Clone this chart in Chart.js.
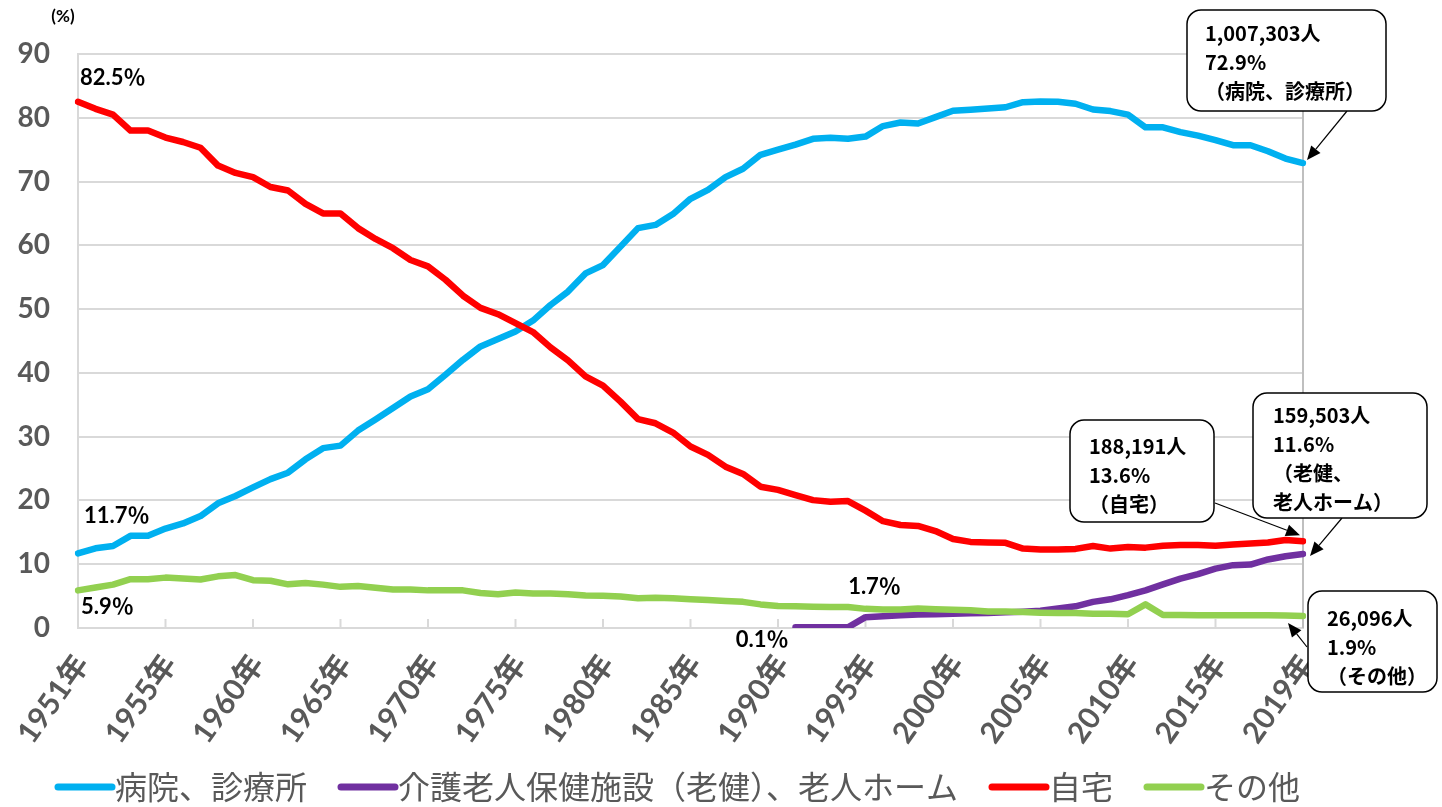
<!DOCTYPE html>
<html lang="ja">
<head>
<meta charset="utf-8">
<title>死亡の場所別にみた死亡数の構成割合</title>
<script src="https://cdn.jsdelivr.net/npm/chart.js@4.4.1/dist/chart.umd.min.js"></script>
<style>
	html, body { margin: 0; padding: 0; background: #ffffff; }
	canvas { display: block; }
</style>
</head>
<body>
<canvas id="myChart" width="1442" height="807"></canvas>
<script>
//global variables
var tickLabels = ["1951年", "1955年", "1960年", "1965年", "1970年",
                  "1975年", "1980年", "1985年", "1990年", "1995年",
                  "2000年", "2005年", "2010年", "2015年", "2019年"];
var pointCount = 71;
var tickEvery = 5;

var seriesNames = ["病院、診療所", "介護老人保健施設（老健）、老人ホーム", "自宅", "その他"];
var seriesColors = ["#00B0F0", "#7030A0", "#FF0000", "#92D050"];

//病院、診療所 (%)
var hospital = [11.7, 12.5, 12.85, 14.45, 14.45, 15.6, 16.4, 17.55, 19.55, 20.7,
                22.05, 23.35, 24.35, 26.45, 28.2, 28.6, 30.95, 32.7, 34.5, 36.3,
                37.45, 39.7, 42.05, 44.15, 45.3, 46.5, 48.2, 50.65, 52.75, 55.6,
                56.9, 59.8, 62.7, 63.2, 64.9, 67.3, 68.7, 70.7, 72.0, 74.2,
                75.0, 75.8, 76.7, 76.85, 76.7, 77.05, 78.7, 79.25, 79.1, 80.1,
                81.1, 81.25, 81.45, 81.65, 82.45, 82.55, 82.5, 82.2, 81.3, 81.05,
                80.5, 78.5, 78.5, 77.75, 77.2, 76.5, 75.7, 75.7, 74.75, 73.6,
                72.9];

//介護老人保健施設（老健）、老人ホーム (%)
var nursing = [null, null, null, null, null, null, null, null, null, null,
               null, null, null, null, null, null, null, null, null, null,
               null, null, null, null, null, null, null, null, null, null,
               null, null, null, null, null, null, null, null, null, null,
               null, 0.1, 0.1, 0.1, 0.1, 1.7, 1.85, 2.0, 2.1, 2.15,
               2.25, 2.3, 2.35, 2.45, 2.55, 2.7, 3.05, 3.4, 4.1, 4.5,
               5.15, 5.9, 6.85, 7.75, 8.45, 9.3, 9.85, 9.95, 10.75, 11.25,
               11.6];

//自宅 (%)
var home = [82.5, 81.4, 80.5, 78.0, 78.0, 76.9, 76.2, 75.3, 72.5, 71.35,
            70.7, 69.15, 68.6, 66.5, 65.0, 65.0, 62.7, 61.0, 59.55, 57.7,
            56.7, 54.6, 52.1, 50.2, 49.2, 47.8, 46.4, 44.0, 41.95, 39.45,
            38.0, 35.5, 32.75, 32.1, 30.65, 28.45, 27.15, 25.3, 24.15, 22.15,
            21.65, 20.85, 20.05, 19.8, 19.9, 18.4, 16.75, 16.15, 16.0, 15.2,
            13.95, 13.5, 13.4, 13.35, 12.45, 12.3, 12.3, 12.4, 12.85, 12.45,
            12.7, 12.6, 12.9, 13.0, 13.0, 12.9, 13.1, 13.25, 13.4, 13.8,
            13.6];

//その他 (%)
var other = [5.9, 6.35, 6.8, 7.65, 7.65, 7.9, 7.75, 7.6, 8.1, 8.3,
             7.5, 7.4, 6.85, 7.05, 6.8, 6.45, 6.6, 6.3, 6.05, 6.05,
             5.9, 5.9, 5.9, 5.5, 5.3, 5.55, 5.4, 5.4, 5.3, 5.1,
             5.05, 4.95, 4.65, 4.75, 4.65, 4.5, 4.4, 4.25, 4.1, 3.7,
             3.45, 3.4, 3.35, 3.3, 3.3, 3.0, 2.9, 2.9, 3.05, 2.95,
             2.85, 2.8, 2.6, 2.6, 2.5, 2.4, 2.35, 2.35, 2.25, 2.25,
             2.15, 3.7, 2.05, 2.05, 2.0, 2.0, 2.0, 2.0, 2.0, 1.95,
             1.9];

//small labels next to the lines: text, dataset, point
var pointLabelTexts = ["82.5％", "11.7％", "5.9％", "1.7％", "0.1％"];
var pointLabelSeries = [2, 0, 3, 1, 1];
var pointLabelIndex = [0, 0, 0, 45, 41];

//callouts at the end of each line
var calloutTexts = [
	["1,007,303人", "72.9%", "（病院、診療所）"],
	["188,191人", "13.6%", "（自宅）"],
	["159,503人", "11.6%", "（老健、", "老人ホーム）"],
	["26,096人", "1.9%", "（その他）"]
];
var calloutSeries = [0, 2, 1, 3];

var plotBottom = 628;
var myChart;

/**
	builds the category list, only every 5th point gets a label
*/
function buildCategories(){
	var cats = [];
	for(var i = 0; i < pointCount; i++)
	{
		if(i % tickEvery == 0){
			cats.push(tickLabels[i / tickEvery]);
		} else {
			cats.push("");
		}
	}
	return cats;
}

//layout of the label boxes (pixels) and offsets of the arrow tip from the point
var calloutLayout = [
	{x: 1187, y: 10, w: 199, h: 101, tx: 1205, ty: 33, fx: 1347, fy: 111, dx: 4, dy: -3},
	{x: 1070, y: 420, w: 144, h: 102, tx: 1089, ty: 446, fx: 1215, fy: 503, dx: -3, dy: -6},
	{x: 1253, y: 393, w: 174, h: 125, tx: 1273, ty: 415, fx: 1342, fy: 518, dx: 7, dy: 2},
	{x: 1308, y: 591, w: 129, h: 101, tx: 1327, ty: 618, fx: 1307, fy: 647, dx: -15, dy: 7}
];
var pointLabelLayout = [
	{dx: 2, dy: -24, align: "left"},
	{dx: 6, dy: -37, align: "left"},
	{dx: 3, dy: 17, align: "left"},
	{dx: 9, dy: -30, align: "center"},
	{dx: -7, dy: 13, align: "right"}
];
var legendLayout = {x: 58, y: 787, line: 54, gap: 3, space: 34};

function roundRect(ctx, x, y, w, h, r){
	ctx.beginPath();
	ctx.moveTo(x + r, y);
	ctx.arcTo(x + w, y, x + w, y + h, r);
	ctx.arcTo(x + w, y + h, x, y + h, r);
	ctx.arcTo(x, y + h, x, y, r);
	ctx.arcTo(x, y, x + w, y, r);
	ctx.closePath();
}

function drawArrow(ctx, x1, y1, x2, y2){
	var ang = Math.atan2(y2 - y1, x2 - x1);
	var len = 14, half = 6;
	ctx.beginPath();
	ctx.moveTo(x1, y1);
	ctx.lineTo(x2 - Math.cos(ang) * len, y2 - Math.sin(ang) * len);
	ctx.stroke();
	ctx.beginPath();
	ctx.moveTo(x2, y2);
	ctx.lineTo(x2 - Math.cos(ang) * len - Math.sin(ang) * half, y2 - Math.sin(ang) * len + Math.cos(ang) * half);
	ctx.lineTo(x2 - Math.cos(ang) * len + Math.sin(ang) * half, y2 - Math.sin(ang) * len - Math.cos(ang) * half);
	ctx.closePath();
	ctx.fill();
}

//legend under the chart, one row, from the datasets
function drawLegend(chart){
	var ctx = chart.ctx;
	var x = legendLayout.x;
	var y = legendLayout.y;
	ctx.save();
	ctx.font = '32px "Noto Sans CJK JP", sans-serif';
	ctx.textBaseline = 'middle';
	ctx.textAlign = 'left';
	chart.data.datasets.forEach(function(ds){
		ctx.strokeStyle = ds.borderColor;
		ctx.lineWidth = 7;
		ctx.lineCap = 'round';
		ctx.beginPath();
		ctx.moveTo(x, y);
		ctx.lineTo(x + legendLayout.line, y);
		ctx.stroke();
		x += legendLayout.line + legendLayout.gap;
		ctx.fillStyle = '#595959';
		ctx.fillText(ds.label, x, y);
		x += ctx.measureText(ds.label).width + legendLayout.space;
	});
	ctx.restore();
}

var overlayPlugin = {
	id: 'overlay',
	beforeDatasetsDraw: function(chart){
		var ctx = chart.ctx;
		var xs = chart.scales.x;
		var area = chart.chartArea;
		ctx.save();
		//right border line at the last year
		ctx.strokeStyle = '#BFBFBF';
		ctx.lineWidth = 2;
		var xr = xs.getPixelForValue(pointCount - 1);
		ctx.beginPath();
		ctx.moveTo(xr, area.top);
		ctx.lineTo(xr, area.bottom);
		ctx.stroke();
		//short tick marks inside the plot
		ctx.strokeStyle = '#D9D9D9';
		for(var i = tickEvery; i < pointCount - 1; i += tickEvery)
		{
			var xt = xs.getPixelForValue(i);
			ctx.beginPath();
			ctx.moveTo(xt, area.bottom);
			ctx.lineTo(xt, area.bottom - 9);
			ctx.stroke();
		}
		ctx.restore();
	},
	afterDraw: function(chart){
		var ctx = chart.ctx;
		ctx.save();
		//unit
		ctx.fillStyle = '#000000';
		ctx.font = 'bold 17px Lato, "Noto Sans CJK JP", sans-serif';
		ctx.textAlign = 'center';
		ctx.textBaseline = 'middle';
		ctx.fillText('(%)', 63, 17);

		//labels at the start of the lines
		ctx.font = 'bold 22px Lato, "Noto Sans CJK JP", sans-serif';
		for(var i = 0; i < pointLabelTexts.length; i++)
		{
			var pt = chart.getDatasetMeta(pointLabelSeries[i]).data[pointLabelIndex[i]];
			var lay = pointLabelLayout[i];
			ctx.textAlign = lay.align;
			ctx.fillText(pointLabelTexts[i], pt.x + lay.dx, pt.y + lay.dy);
		}

		//callouts
		for(var c = 0; c < calloutTexts.length; c++)
		{
			var box = calloutLayout[c];
			var last = chart.getDatasetMeta(calloutSeries[c]).data[pointCount - 1];
			ctx.strokeStyle = '#000000';
			ctx.fillStyle = '#000000';
			ctx.lineWidth = 1.2;
			drawArrow(ctx, box.fx, box.fy, last.x + box.dx, last.y + box.dy);

			roundRect(ctx, box.x, box.y, box.w, box.h, 14);
			ctx.fillStyle = '#ffffff';
			ctx.fill();
			ctx.lineWidth = 1.5;
			ctx.stroke();

			ctx.fillStyle = '#000000';
			ctx.font = 'bold 20px "Noto Sans CJK JP", sans-serif';
			ctx.textAlign = 'left';
			for(var k = 0; k < calloutTexts[c].length; k++)
			{
				ctx.fillText(calloutTexts[c][k], box.tx, box.ty + k * 29);
			}
		}
		ctx.restore();

		drawLegend(chart);
	}
};

function makeDataset(idx, values, order){
	return {
		label: seriesNames[idx],
		data: values,
		borderColor: seriesColors[idx],
		backgroundColor: seriesColors[idx],
		borderWidth: 6.5,
		borderCapStyle: 'round',
		borderJoinStyle: 'round',
		pointRadius: 0,
		tension: 0,
		fill: false,
		order: order
	};
}

function showChart(){
	Chart.defaults.font.family = 'Lato, "Noto Sans CJK JP", sans-serif';
	var ctx = document.getElementById('myChart');

	myChart = new Chart(ctx, {
		type: 'line',
		data: {
			labels: buildCategories(),
			datasets: [
				makeDataset(0, hospital, 4),
				makeDataset(1, nursing, 3),
				makeDataset(2, home, 2),
				makeDataset(3, other, 1)
			]
		},
		options: {
			responsive: false,
			animation: false,
			layout: {
				padding: { top: 54, right: 139, left: 0, bottom: 0 }
			},
			plugins: {
				tooltip: { enabled: false },
				legend: { display: false }
			},
			scales: {
				x: {
					grid: { display: false, drawTicks: false },
					border: { color: '#D9D9D9', width: 2 },
					ticks: {
						autoSkip: false,
						maxRotation: 55,
						minRotation: 55,
						padding: 20,
						labelOffset: 4,
						color: '#595959',
						font: { size: 30, weight: 'bold' }
					},
					afterFit: function(scale){
						scale.height = scale.chart.height - plotBottom;
					}
				},
				y: {
					min: 0,
					max: 90,
					grid: { color: '#D9D9D9', lineWidth: 2, drawTicks: false },
					border: { color: '#D9D9D9', width: 2 },
					ticks: {
						stepSize: 10,
						padding: 28,
						color: '#595959',
						font: { size: 28, weight: 'bold' }
					},
					afterFit: function(scale){
						scale.width = 78;
					}
				}
			}
		},
		plugins: [overlayPlugin]
	});
}

showChart();
</script>
</body>
</html>
